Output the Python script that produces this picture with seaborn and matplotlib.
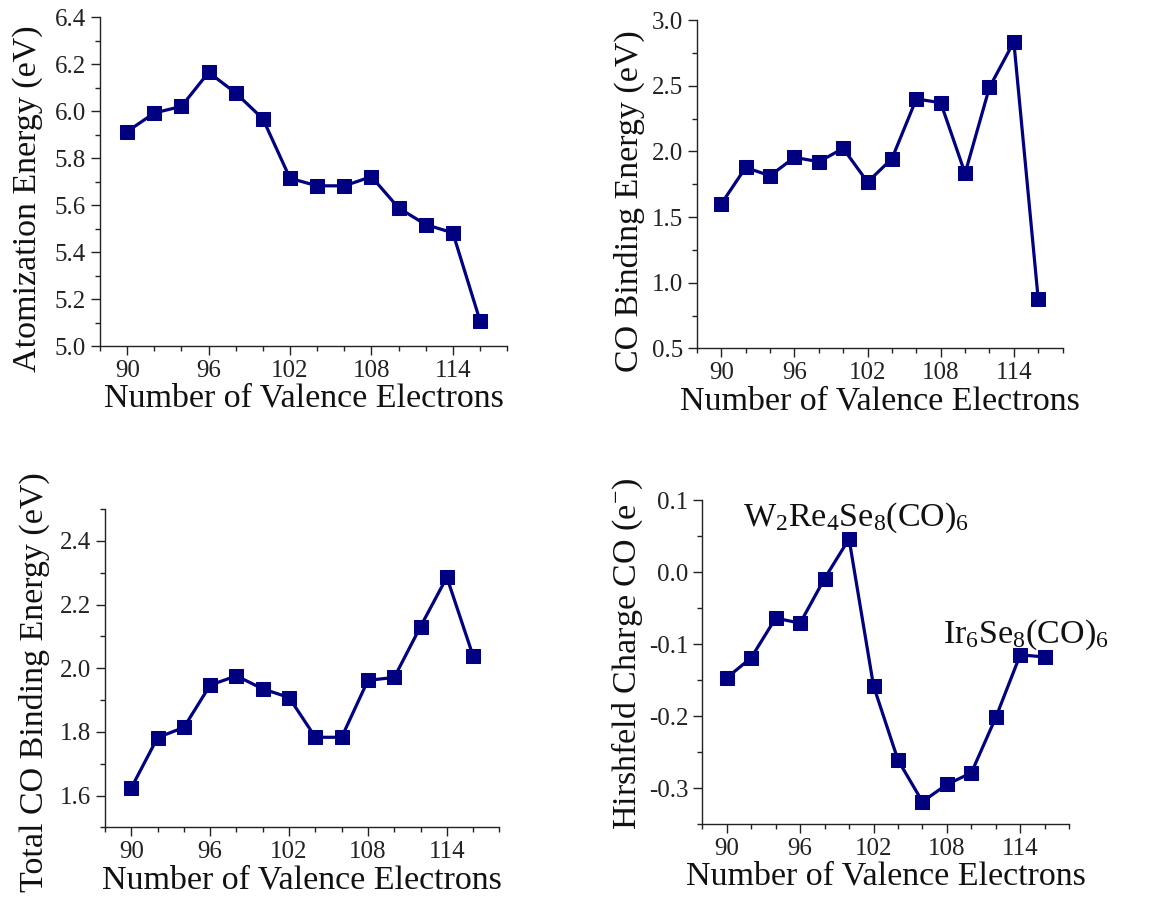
import matplotlib
matplotlib.use("Agg")
import matplotlib.pyplot as plt
from matplotlib.ticker import MultipleLocator, FormatStrFormatter
import seaborn as sns
import pandas as pd

sns.set_theme(style="ticks")
plt.rcParams['font.family'] = ['Liberation Serif', 'DejaVu Serif']
plt.rcParams['mathtext.fontset'] = 'custom'
plt.rcParams['mathtext.rm'] = 'Liberation Serif'
plt.rcParams['mathtext.it'] = 'Liberation Serif:italic'

electrons = [90, 92, 94, 96, 98, 100, 102, 104, 106, 108, 110, 112, 114, 116]
atomization = [5.913, 5.992, 6.020, 6.165, 6.077, 5.967, 5.714, 5.682, 5.682, 5.721, 5.588, 5.517, 5.482, 5.108]
co_binding = [1.601, 1.878, 1.815, 1.955, 1.922, 2.023, 1.767, 1.945, 2.400, 2.372, 1.833, 2.489, 2.835, 0.874]
total_co_binding = [1.624, 1.782, 1.814, 1.947, 1.976, 1.935, 1.908, 1.783, 1.783, 1.962, 1.971, 2.131, 2.286, 2.038]
hirshfeld = [-0.147, -0.119, -0.064, -0.071, -0.009, 0.046, -0.158, -0.261, -0.319, -0.295, -0.279, -0.202, -0.115, -0.118]

xlabel = "Number of Valence Electrons"
ylabels = ["Atomization Energy (eV)", "CO Binding Energy (eV)",
           "Total CO Binding Energy (eV)", "Hirshfeld Charge CO (e$^{-}$)"]
series = [atomization, co_binding, total_co_binding, hirshfeld]
ylims = [(5.0, 6.4), (0.5, 3.0), (1.5, 2.5), (-0.35, 0.1)]
ymajor = [0.2, 0.5, 0.2, 0.1]
yminor = [0.1, 0.25, 0.1, 0.05]
positions = [
    [0.087, 0.615, 0.354, 0.366],
    [0.606, 0.6125, 0.318, 0.365],
    [0.0913, 0.0797, 0.343, 0.354],
    [0.6107, 0.0834, 0.319, 0.3604],
]
ylabel_coords = [(-0.14, 0.447), (-0.142, 0.45), (-0.14, 0.457), (-0.157, 0.525)]

navy = '#000080'
fig = plt.figure(figsize=(11.5, 8.99), dpi=100)
axes = []
for pos, y, yl, lim, mj, mn, lc in zip(positions, series, ylabels, ylims,
                                       ymajor, yminor, ylabel_coords):
    ax = fig.add_axes(pos)
    df = pd.DataFrame({"x": electrons, "y": y})
    sns.lineplot(data=df, x="x", y="y", ax=ax, color=navy, linewidth=2.3,
                 marker='s', markersize=9.5, markeredgecolor=navy,
                 markerfacecolor=navy)
    ax.set_xlim(88, 118)
    ax.set_ylim(*lim)
    ax.xaxis.set_major_locator(MultipleLocator(6))
    ax.xaxis.set_minor_locator(MultipleLocator(2))
    ax.yaxis.set_major_locator(MultipleLocator(mj))
    ax.yaxis.set_minor_locator(MultipleLocator(mn))
    ax.yaxis.set_major_formatter(FormatStrFormatter('%.1f'))
    for s in ['top', 'right']:
        ax.spines[s].set_visible(False)
    for s in ['left', 'bottom']:
        ax.spines[s].set_color('#222222')
        ax.spines[s].set_linewidth(1.0)
    ax.tick_params(which='major', direction='out', length=6.5, width=1.0,
                   labelsize=18, colors='#222222', pad=3.5)
    ax.tick_params(which='minor', direction='out', length=3.5, width=1.0,
                   colors='#222222')
    ax.set_xlabel(xlabel, fontsize=24.5, color='#111111', labelpad=1)
    ax.set_ylabel(yl, fontsize=24.5, color='#111111')
    ax.yaxis.set_label_coords(*lc)
    axes.append(ax)

axes[3].text(91.3, 0.075, "W$_2$Re$_4$Se$_8$(CO)$_6$", fontsize=24.5, color='#111111',
             ha='left', va='center')
axes[3].text(107.7, -0.087, "Ir$_6$Se$_8$(CO)$_6$", fontsize=24.5, color='#111111',
             ha='left', va='center')

fig.savefig("out.png", dpi=100)
